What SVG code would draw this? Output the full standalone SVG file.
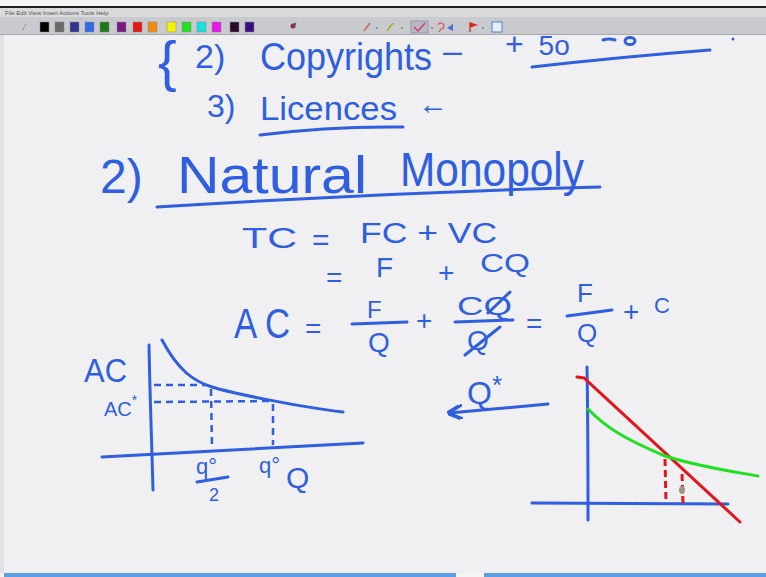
<svg xmlns="http://www.w3.org/2000/svg" width="766" height="577" viewBox="0 0 766 577">
  <style>
    .h{fill:#2f5fe0;font-family:"Liberation Sans",Arial,sans-serif}
    .s{stroke:#2f5fe0;stroke-width:3;fill:none;stroke-linecap:round;stroke-linejoin:round}
    .sd{stroke:#2f5fe0;stroke-width:2.5;fill:none;stroke-dasharray:7 5}
    .red{stroke:#e4151a;stroke-width:3;fill:none;stroke-linecap:round}
    .redd{stroke:#e4151a;stroke-width:3;fill:none;stroke-dasharray:7 4}
    .grn{stroke:#21e021;stroke-width:3;fill:none;stroke-linecap:round}
    .sw{stroke:#888;stroke-width:0.5}
    .menu{fill:#555;font-family:"Liberation Sans",Arial,sans-serif;font-size:6px}
  </style>
  <defs>
    <marker id="ah" viewBox="0 0 10 10" refX="9" refY="5" markerWidth="5" markerHeight="5" orient="auto">
      <path d="M0,0 L10,5 L0,10" fill="none" stroke="#2f5fe0" stroke-width="2.5"/>
    </marker>
  </defs>

  <!-- canvas -->
  <rect x="0" y="0" width="766" height="577" fill="#f0f0f2"/>
  <rect x="0" y="0" width="4" height="577" fill="#e2e2e5"/>

  <!-- top notes -->
  <g id="top-notes">
    <text class="h" x="158" y="80" font-size="56">{</text>
    <text class="h" x="195" y="68" font-size="34">2)</text>
    <text class="h" x="260" y="70" font-size="38" textLength="172" lengthAdjust="spacingAndGlyphs">Copyrights</text>
    <text class="h" x="443" y="62" font-size="34">–</text>
    <text class="h" x="505" y="55" font-size="32">+ <tspan font-size="28" dx="6">5o</tspan></text>
    <path class="s" d="M603,40 q6,-2 12,0 M625,41 a5,3.5 0 1,0 10,0 a5,3.5 0 1,0 -10,0"/>
    <circle cx="733" cy="39" r="1.5" fill="#2f5fe0"/>
    <path class="s" d="M532,67 Q620,57 710,50"/>
    <text class="h" x="207" y="117" font-size="32">3)</text>
    <text class="h" x="260" y="120" font-size="34" textLength="137" lengthAdjust="spacingAndGlyphs">Licences</text>
    <text class="h" x="418" y="114" font-size="30">←</text>
    <path class="s" d="M260,135 Q330,126 403,127"/>
  </g>

  <!-- heading -->
  <g id="heading">
    <text class="h" x="100" y="193" font-size="48">2)</text>
    <text class="h" x="177" y="193" font-size="52" textLength="190" lengthAdjust="spacingAndGlyphs">Natural</text>
    <text class="h" x="400" y="186" font-size="48" textLength="184" lengthAdjust="spacingAndGlyphs">Monopoly</text>
    <path class="s" d="M157,207 Q380,193 600,187"/>
  </g>

  <!-- equations -->
  <g id="equations">
    <text class="h" x="242" y="248" font-size="30" textLength="55" lengthAdjust="spacingAndGlyphs">TC</text>
    <text class="h" x="312" y="250" font-size="30">=</text>
    <text class="h" x="360" y="243" font-size="30" textLength="137" lengthAdjust="spacingAndGlyphs">FC + VC</text>
    <text class="h" x="326" y="287" font-size="28">=</text>
    <text class="h" x="376" y="277" font-size="28">F</text>
    <text class="h" x="438" y="282" font-size="28">+</text>
    <text class="h" x="480" y="272" font-size="26" textLength="50" lengthAdjust="spacingAndGlyphs">CQ</text>

    <text class="h" x="234" y="338" font-size="42" textLength="56" lengthAdjust="spacingAndGlyphs">A C</text>
    <text class="h" x="305" y="338" font-size="28">=</text>
    <text class="h" x="367" y="318" font-size="24">F</text>
    <path class="s" d="M352,324 L407,322"/>
    <text class="h" x="368" y="352" font-size="28">Q</text>
    <text class="h" x="416" y="330" font-size="28">+</text>
    <text class="h" x="457" y="315" font-size="26" textLength="55" lengthAdjust="spacingAndGlyphs">CQ</text>
    <path class="s" d="M488,313 L510,292"/>
    <path class="s" d="M455,322 L513,320"/>
    <text class="h" x="467" y="350" font-size="28">Q</text>
    <path class="s" d="M465,355 L500,327"/>
    <text class="h" x="526" y="333" font-size="28">=</text>
    <text class="h" x="577" y="302" font-size="26">F</text>
    <path class="s" d="M567,316 L612,310"/>
    <text class="h" x="577" y="342" font-size="26">Q</text>
    <text class="h" x="623" y="321" font-size="28">+</text>
    <text class="h" x="654" y="313" font-size="22">C</text>
  </g>

  <!-- AC graph -->
  <g id="graph-ac">
    <path class="s" d="M149,345 C150,400 152,450 153,490"/>
    <path class="s" d="M102,457 L363,443"/>
    <path class="s" d="M162,340 C178,370 193,381 212,387 S300,407 343,412"/>
    <path class="sd" d="M154,385 L207,385"/>
    <path class="sd" d="M154,402 L271,401"/>
    <path class="sd" d="M211,389 L212,447"/>
    <path class="sd" d="M273,404 L273,445"/>
    <text class="h" x="84" y="382" font-size="33" textLength="43" lengthAdjust="spacingAndGlyphs">AC</text>
    <text class="h" x="104" y="416" font-size="20">AC<tspan font-size="14" dy="-11">*</tspan></text>
    <text class="h" x="196" y="474" font-size="22">q°</text>
    <path class="s" d="M197,482 L228,477"/>
    <text class="h" x="209" y="501" font-size="18">2</text>
    <text class="h" x="259" y="473" font-size="22">q°</text>
    <text class="h" x="286" y="488" font-size="30">Q</text>
  </g>

  <!-- Q* arrow -->
  <g id="q-star">
    <text class="h" x="467" y="404" font-size="32">Q<tspan font-size="26" dy="-10">*</tspan></text>
  </g>
  <g id="connectors">
    <path class="s" d="M548,404 L449,413" marker-end="url(#ah)"/>
  </g>

  <!-- natural monopoly graph -->
  <g id="graph-nm">
    <path class="s" d="M587,367 C588,420 588,470 588,520"/>
    <path class="s" d="M532,503 L728,504"/>
    <path class="red" d="M577,377 L584,378 L740,522"/>
    <path class="grn" d="M588,409 C608,430 630,441 665,456 C700,467 730,471 758,476"/>
    <path class="redd" d="M665,459 L666,503"/>
    <path class="redd" d="M682,474 L683,503"/>
    <ellipse cx="682" cy="490" rx="3" ry="4" fill="#9a9680"/>
  </g>

  <!-- application chrome -->
  <g id="toolbar">
    <rect x="0" y="0" width="766" height="6" fill="#f4f4f4"/>
    <rect x="0" y="6" width="766" height="2" fill="#1e1e1e"/>
    <rect x="0" y="8" width="766" height="9" fill="#dadadd"/>
    <text class="menu" x="5" y="15">File  Edit  View  Insert  Actions  Tools  Help</text>
    <rect x="0" y="17" width="766" height="17" fill="#c9cace"/>
    <rect x="0" y="34" width="766" height="1" fill="#a7a8ae"/>
    <path d="M26,24 L22,31" stroke="#999" stroke-width="1"/>
    <rect class="sw" x="40" y="22" width="9" height="10" fill="#000"/>
    <rect class="sw" x="55" y="22" width="9" height="10" fill="#6a6a6a"/>
    <rect class="sw" x="70" y="22" width="9" height="10" fill="#33338f"/>
    <rect class="sw" x="85" y="22" width="9" height="10" fill="#2f6ae8"/>
    <rect class="sw" x="100" y="22" width="9" height="10" fill="#1a7a1a"/>
    <rect class="sw" x="117" y="22" width="9" height="10" fill="#7a1a80"/>
    <rect class="sw" x="133" y="22" width="9" height="10" fill="#e01818"/>
    <rect class="sw" x="148" y="22" width="9" height="10" fill="#f08a10"/>
    <rect class="sw" x="167" y="22" width="9" height="10" fill="#f4f400"/>
    <rect class="sw" x="182" y="22" width="9" height="10" fill="#20e020"/>
    <rect class="sw" x="197" y="22" width="9" height="10" fill="#18e0e0"/>
    <rect class="sw" x="212" y="22" width="9" height="10" fill="#e818e8"/>
    <rect class="sw" x="230" y="22" width="9" height="10" fill="#2a0a30"/>
    <rect class="sw" x="245" y="22" width="9" height="10" fill="#3a1080"/>
    <circle cx="293" cy="26" r="2.5" fill="#8a3040"/>
    <circle cx="295" cy="24" r="1.2" fill="#3060c0"/>
    <path d="M370,23 L364,31" stroke="#c07050" stroke-width="1.5"/>
    <circle cx="377" cy="28" r="0.8" fill="#555"/>
    <path d="M393,23 L387,31" stroke="#a0b030" stroke-width="1.5"/>
    <circle cx="402" cy="28" r="0.8" fill="#555"/>
    <rect x="411" y="21" width="17" height="12" fill="#b8b8c8" stroke="#9090a8" stroke-width="0.8"/>
    <path d="M414,27 L418,31 L425,23" stroke="#d04060" stroke-width="1.5" fill="none"/>
    <circle cx="432" cy="28" r="0.8" fill="#555"/>
    <path d="M438,25 a3,3 0 1,1 3,4 l-2,3" stroke="#e05060" stroke-width="1.2" fill="none"/>
    <path d="M453,24 L447,28 L453,31 Z" fill="#4a70d8"/>
    <path d="M470,32 L470,23 L476,25 L470,27" stroke="#e02020" stroke-width="1.3" fill="#e02020"/>
    <circle cx="483" cy="28" r="0.8" fill="#555"/>
    <rect x="492" y="22" width="10" height="10" fill="#e8f0ff" stroke="#4a80d0" stroke-width="1"/>
  </g>

  <g id="status">
    <rect x="0" y="573" width="766" height="4" fill="#f4f4f6"/>
    <rect x="4" y="573" width="452" height="4" fill="#5b9fe6"/>
    <rect x="484" y="573" width="282" height="4" fill="#5b9fe6"/>
  </g>
</svg>
